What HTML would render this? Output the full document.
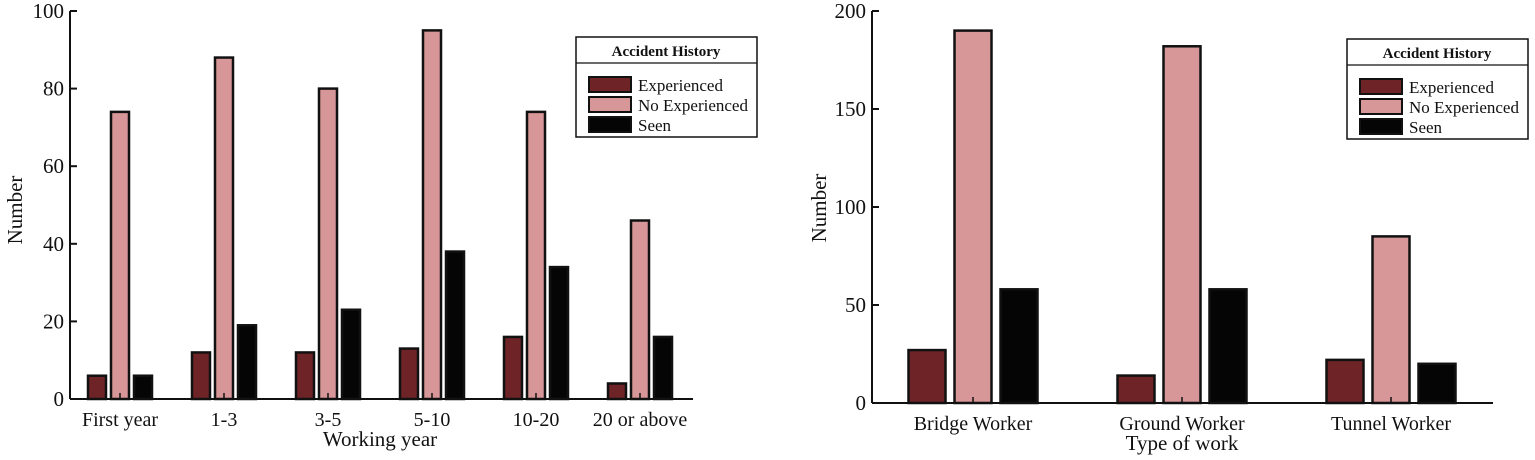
<!DOCTYPE html>
<html><head><meta charset="utf-8"><style>body{margin:0;background:#fff}svg{display:block}text{font-family:"Liberation Serif",serif;fill:#111}</style></head><body>
<svg width="1535" height="460" viewBox="0 0 1535 460" xmlns="http://www.w3.org/2000/svg">
<g id="L"></g><g id="R"></g>
</svg>
<script>
const C1='#6e2427',C2='#d79697',C3='#050505';
function chart(g,o){
 let s='';
 const {x0,y0,y1,xEnd,max,step,centers,labels,data,off,bw,xl,yl,ylx}=o;
 const sc=(y0-y1)/max;
 s+=`<line x1="${x0}" y1="${y1}" x2="${x0}" y2="${y0}" stroke="#111" stroke-width="2"/>`;
 s+=`<line x1="${x0}" y1="${y0}" x2="${xEnd}" y2="${y0}" stroke="#111" stroke-width="2"/>`;
 for(let v=0;v<=max;v+=step){const y=y0-v*sc;s+=`<line x1="${x0}" y1="${y}" x2="${x0+7}" y2="${y}" stroke="#111" stroke-width="2"/><text x="${x0-6}" y="${y+7}" font-size="21" text-anchor="end">${v}</text>`;}
 centers.forEach((c,i)=>{
  [C1,C2,C3].forEach((col,k)=>{const v=data[k][i];const h=v*sc;const x=c+(k-1)*off-bw/2;
   s+=`<rect x="${x}" y="${y0-h}" width="${bw}" height="${h}" fill="${col}" stroke="#111" stroke-width="2.5"/>`;});
  s+=`<line x1="${c}" y1="${y0}" x2="${c}" y2="${y0-6}" stroke="#111" stroke-width="1.5"/>`;
  s+=`<text x="${c}" y="${y0+27}" font-size="20" text-anchor="middle">${labels[i]}</text>`;
 });
 s+=`<text x="${xl[0]}" y="${xl[1]}" font-size="21" text-anchor="middle">${o.xt}</text>`;
 s+=`<text transform="translate(${ylx},${yl}) rotate(-90)" font-size="21" text-anchor="middle">Number</text>`;
 const lx=o.lx,ly=o.ly;
 s+=`<rect x="${lx}" y="${ly}" width="181" height="100" fill="#fff" stroke="#111" stroke-width="1.5"/>`;
 s+=`<line x1="${lx}" y1="${ly+26}" x2="${lx+181}" y2="${ly+26}" stroke="#111" stroke-width="1.2"/>`;
 s+=`<text x="${lx+90}" y="${ly+19}" font-size="15" font-weight="bold" text-anchor="middle">Accident History</text>`;
 ['Experienced','No Experienced','Seen'].forEach((t,k)=>{const yy=ly+40+k*20;
  s+=`<rect x="${lx+13}" y="${yy}" width="42" height="15" fill="${[C1,C2,C3][k]}" stroke="#111" stroke-width="2"/>`;
  s+=`<text x="${lx+62}" y="${yy+14}" font-size="17">${t}</text>`;});
 document.getElementById(g).innerHTML=s;
}
chart('L',{x0:70,y0:399,y1:11,xEnd:693,max:100,step:20,centers:[120,224,328,432,536,640],
 labels:['First year','1-3','3-5','5-10','10-20','20 or above'],
 data:[[6,12,12,13,16,4],[74,88,80,95,74,46],[6,19,23,38,34,16]],off:23,bw:18,
 xl:[380,446],xt:'Working year',yl:210,ylx:22,lx:576,ly:37});
chart('R',{x0:872,y0:403,y1:11,xEnd:1493,max:200,step:50,centers:[973,1182,1391],
 labels:['Bridge Worker','Ground Worker','Tunnel Worker'],
 data:[[27,14,22],[190,182,85],[58,58,20]],off:46,bw:37,
 xl:[1182,450],xt:'Type of work',yl:208,ylx:826,lx:1347,ly:39});
</script>
</body></html>
